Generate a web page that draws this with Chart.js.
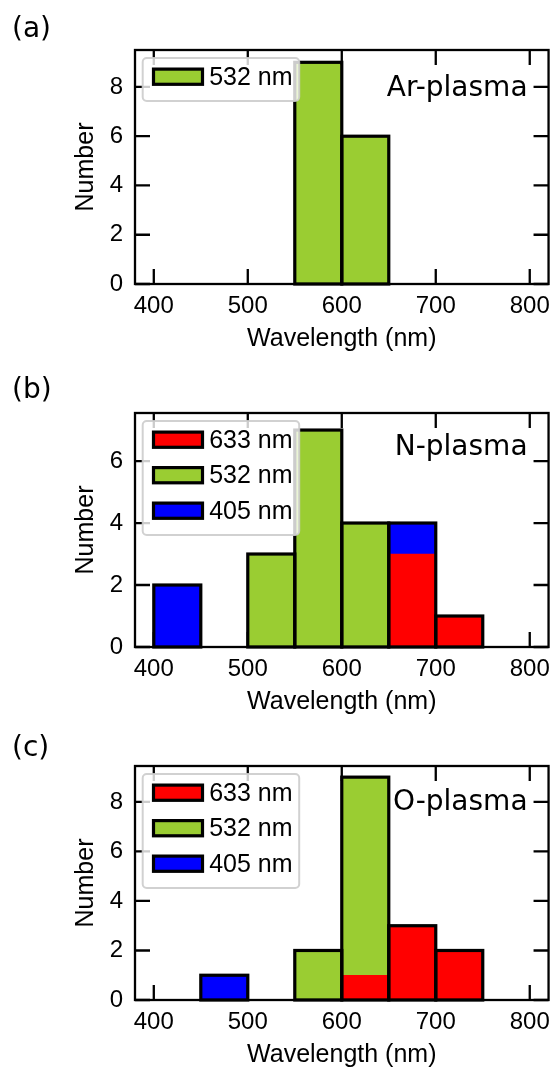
<!DOCTYPE html>
<html>
<head>
<meta charset="utf-8">
<script src="https://cdn.jsdelivr.net/npm/chart.js@4.4.1/dist/chart.umd.min.js"></script>
<style>
  html, body { margin: 0; padding: 0; background: #fff; }
  body { width: 558px; height: 1070px; position: relative; overflow: hidden; }
  canvas { position: absolute; left: 0; }
</style>
</head>
<body>
<canvas id="chartA" width="558" height="354" style="top:0px"></canvas>
<canvas id="chartB" width="558" height="354" style="top:363px"></canvas>
<canvas id="chartC" width="558" height="354" style="top:716px"></canvas>
<script>
// histogram bins are 50 nm wide, given by their centres (nm)
const binCenters = [425, 475, 525, 575, 625, 675, 725, 775];
const xTicks = [400, 500, 600, 700, 800];

// (a) Ar-plasma
const ar532 = [0, 0, 0, 9, 6, 0, 0, 0];
const yTicksA = [0, 2, 4, 6, 8];

// (b) N-plasma
const n633 = [0, 0, 0, 0, 0, 3, 1, 0];
const n532 = [0, 0, 3, 7, 4, 0, 0, 0];
const n405 = [2, 0, 0, 0, 0, 1, 0, 0];
const yTicksB = [0, 2, 4, 6];

// (c) O-plasma
const o633 = [0, 0, 0, 0, 1, 3, 2, 0];
const o532 = [0, 0, 0, 2, 8, 0, 0, 0];
const o405 = [0, 1, 0, 0, 0, 0, 0, 0];
const yTicksC = [0, 2, 4, 6, 8];

const laserColors = { '633 nm': '#ff0000', '532 nm': '#9acd32', '405 nm': '#0000ff' };

const sansFont = "'Liberation Sans', Arial, sans-serif";
const dejaFont = "'DejaVu Sans', sans-serif";

// frame, inward ticks, bar outlines, annotation and legend
const framePlugin = {
  id: 'frame',
  afterDatasetsDraw(chart) {
    const { ctx, chartArea: a, scales: { x, y } } = chart;
    const metas = chart.getSortedVisibleDatasetMetas();
    ctx.save();
    ctx.strokeStyle = '#000';
    ctx.lineWidth = 3.2;
    chart.data.labels.forEach((c, i) => {
      let total = 0;
      chart.data.datasets.forEach(ds => { total += ds.data[i] || 0; });
      if (!total) return;
      const el = metas[0].data[i];
      const left = el.x - el.width / 2;
      const top = y.getPixelForValue(total);
      const base = y.getPixelForValue(0);
      ctx.strokeRect(left, top, el.width, base - top);
    });

    ctx.lineWidth = 2.3;
    ctx.strokeRect(a.left, a.top, a.right - a.left, a.bottom - a.top);
    const tl = 15;
    ctx.beginPath();
    x.ticks.forEach(t => {
      const px = x.getPixelForValue(t.value);
      ctx.moveTo(px, a.bottom); ctx.lineTo(px, a.bottom - tl);
      ctx.moveTo(px, a.top); ctx.lineTo(px, a.top + tl);
    });
    y.ticks.forEach(t => {
      const py = y.getPixelForValue(t.value);
      ctx.moveTo(a.left, py); ctx.lineTo(a.left + tl, py);
      ctx.moveTo(a.right, py); ctx.lineTo(a.right - tl, py);
    });
    ctx.stroke();
    ctx.restore();
  },
  afterDraw(chart, args, opts) {
    const { ctx, chartArea: a } = chart;
    ctx.save();
    ctx.fillStyle = '#000';
    ctx.font = '28px ' + dejaFont;
    ctx.textBaseline = 'alphabetic';
    ctx.textAlign = 'left';
    ctx.fillText(opts.panel, 12, opts.panelY);
    ctx.textAlign = 'right';
    ctx.fillText(opts.plasma, a.right - 21, opts.plasmaY);

    // legend, drawn over everything like matplotlib does
    const items = chart.data.datasets;
    const bx = a.left + 7.7, by = a.top + 8;
    const bw = 156.5, bh = 43 + (items.length - 1) * 35.5;
    ctx.beginPath();
    ctx.roundRect(bx, by, bw, bh, 4);
    ctx.fillStyle = 'rgba(255,255,255,0.8)';
    ctx.fill();
    ctx.lineWidth = 2;
    ctx.strokeStyle = 'rgba(204,204,204,0.9)';
    ctx.stroke();
    ctx.font = '25px ' + sansFont;
    ctx.textAlign = 'left';
    ctx.textBaseline = 'middle';
    items.forEach((ds, i) => {
      const cy = by + 18.7 + i * 35.5;
      ctx.fillStyle = ds.backgroundColor;
      ctx.fillRect(bx + 10.8, cy - 7.6, 49, 15.2);
      ctx.lineWidth = 3.2;
      ctx.strokeStyle = '#000';
      ctx.strokeRect(bx + 10.8, cy - 7.6, 49, 15.2);
      ctx.fillStyle = '#000';
      ctx.fillText(ds.label, bx + 66.5, cy + 1);
    });
    ctx.restore();
  }
};

function makeDataset(label, values) {
  return {
    label: label,
    data: values.map(v => v || null),
    backgroundColor: laserColors[label],
    borderWidth: 0,
    barPercentage: 1,
    categoryPercentage: 1
  };
}

function makeChart(id, datasets, yMax, yTicks, panel, panelY, plasma, plasmaY) {
  return new Chart(document.getElementById(id), {
    type: 'bar',
    data: { labels: binCenters, datasets: datasets },
    plugins: [framePlugin],
    options: {
      responsive: false,
      animation: false,
      events: [],
      layout: { padding: { top: 50, right: 5, left: 0, bottom: 0 } },
      plugins: {
        legend: { display: false },
        tooltip: { enabled: false },
        frame: { panel: panel, panelY: panelY, plasma: plasma, plasmaY: plasmaY }
      },
      scales: {
        x: {
          type: 'linear',
          min: 380,
          max: 820,
          offset: false,
          stacked: true,
          afterBuildTicks: s => { s.ticks = xTicks.map(v => ({ value: v })); },
          afterFit: s => { s.height = 70; },
          grid: { display: false, drawTicks: false },
          border: { display: false },
          ticks: { padding: 8, color: '#000', maxRotation: 0, autoSkip: false,
                   font: { family: sansFont, size: 24 } },
          title: { display: true, text: 'Wavelength (nm)', color: '#000',
                   padding: { top: 0, bottom: 0 },
                   font: { family: sansFont, size: 25 } }
        },
        y: {
          min: 0,
          max: yMax,
          stacked: true,
          afterBuildTicks: s => { s.ticks = yTicks.map(v => ({ value: v })); },
          afterFit: s => { s.width = 135; },
          grid: { display: false, drawTicks: false },
          border: { display: false },
          ticks: { padding: 12, color: '#000', font: { family: sansFont, size: 24 } },
          title: { display: true, text: 'Number', color: '#000',
                   padding: { top: 71, bottom: 0 },
                   font: { family: sansFont, size: 25 } }
        }
      }
    }
  });
}

makeChart('chartA', [makeDataset('532 nm', ar532)], 9.5, yTicksA,
  '(a)', 36.5, 'Ar-plasma', 95.5);
makeChart('chartB', [makeDataset('633 nm', n633), makeDataset('532 nm', n532), makeDataset('405 nm', n405)],
  7.55, yTicksB, '(b)', 35, 'N-plasma', 92);
makeChart('chartC', [makeDataset('633 nm', o633), makeDataset('532 nm', o532), makeDataset('405 nm', o405)],
  9.45, yTicksC, '(c)', 39.5, 'O-plasma', 93.5);
</script>
</body>
</html>
